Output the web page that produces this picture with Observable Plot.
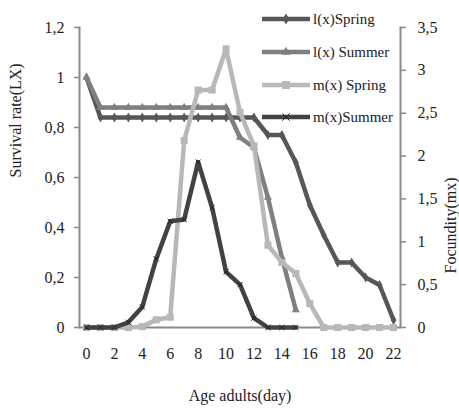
<!DOCTYPE html>
<html>
<head>
<meta charset="utf-8">
<script src="https://cdn.jsdelivr.net/npm/d3@7"></script>
<script src="https://cdn.jsdelivr.net/npm/@observablehq/plot@0.6"></script>
<style>
  html, body { margin: 0; padding: 0; background: #fff; }
  #chart { width: 459px; height: 410px; }
  #chart svg, #chart svg text { font-family: "Liberation Serif", "Times New Roman", serif !important; }
</style>
</head>
<body>
<div id="chart"></div>
<script>
// ---- data ----
const days = [0,1,2,3,4,5,6,7,8,9,10,11,12,13,14,15,16,17,18,19,20,21,22];
const xTicks = [0,2,4,6,8,10,12,14,16,18,20,22];
const leftTicks = [0,0.2,0.4,0.6,0.8,1,1.2];
const rightTicks = [0,0.5,1,1.5,2,2.5,3,3.5];
const seriesNames = ["l(x)Spring","l(x) Summer","m(x) Spring","m(x)Summer"];
const lxSpring = [1,0.84,0.84,0.84,0.84,0.84,0.84,0.84,0.84,0.84,0.84,0.84,0.84,0.77,0.77,0.66,0.49,0.37,0.26,0.26,0.20,0.17,0.03];
const lxSummer = [1,0.88,0.88,0.88,0.88,0.88,0.88,0.88,0.88,0.88,0.88,0.76,0.72,0.52,0.28,0.07];
const mxSpring = [0,0,0,0,0.01,0.09,0.12,2.18,2.77,2.77,3.25,2.51,2.12,0.96,0.76,0.63,0.28,0,0,0,0,0,0];
const mxSummer = [0,0,0,0.06,0.24,0.80,1.24,1.26,1.93,1.40,0.65,0.50,0.11,0,0,0];

// ---- styling ----
const colors = ["#575757","#7f7f7f","#b8b8b8","#424242"];
const symbols = ["diamond","triangle","square","times"];
const font = "'Liberation Serif', 'Times New Roman', serif";
const axisColor = "#8a8a8a";
const leftMax = 1.2, rightMax = 3.5;
const k = leftMax / rightMax; // map right axis onto left scale

const fmt = v => String(Math.round(v * 10) / 10).replace(".", ",");

const toRows = (arr, secondary) => arr.map((v, i) => ({day: days[i], v, y: secondary ? v * k : v}));
const data = [toRows(lxSpring,false), toRows(lxSummer,false), toRows(mxSpring,true), toRows(mxSummer,true)];

const seriesMarks = data.flatMap((rows, s) => [
  Plot.line(rows, {x: "day", y: "y", stroke: colors[s], strokeWidth: 4.5, strokeLinejoin: "round"}),
  symbols[s] === "times"
    ? Plot.dot(rows, {x: "day", y: "y", symbol: "times", r: 2.5, stroke: "#222", strokeWidth: 1})
    : Plot.dot(rows, {x: "day", y: "y", symbol: symbols[s], r: symbols[s] === "square" ? 4 : 3, fill: colors[s], stroke: "none"})
]);

const chart = Plot.plot({
  width: 459,
  height: 410,
  marginLeft: 79,
  marginRight: 59,
  marginTop: 27,
  marginBottom: 83,
  style: {fontFamily: font, fontSize: "16px", color: "#222", background: "#fff"},
  x: {domain: [-0.5, 22.5]},
  y: {domain: [0, leftMax]},
  marks: [
    Plot.ruleY([0], {stroke: axisColor, strokeWidth: 2}),
    Plot.frame({anchor: "left", stroke: axisColor, strokeWidth: 2}),
    Plot.frame({anchor: "right", stroke: axisColor, strokeWidth: 2}),
    Plot.axisX({ticks: xTicks, tickSize: 0, tickPadding: 20, label: null, fontSize: 16, tickFormat: d => String(d)}),
    Plot.axisY({ticks: leftTicks, tickSize: 5, tickPadding: 10, stroke: axisColor, strokeWidth: 1.5, label: null, fontSize: 16, tickFormat: fmt}),
    Plot.axisY({anchor: "right", ticks: rightTicks.map(v => v * k), tickSize: 5, tickPadding: 12, stroke: axisColor, strokeWidth: 1.5, label: null, fontSize: 16, tickFormat: d => fmt(d / k)}),
    ...seriesMarks,
    Plot.text(["Survival rate(LX)"], {frameAnchor: "left", dx: -64, rotate: -90, fontSize: 16, fill: "#222", letterSpacing: 1}),
    Plot.text(["Focundity(mx)"], {frameAnchor: "right", dx: 50, rotate: -90, fontSize: 16, fill: "#222", letterSpacing: 1.5}),
    Plot.text(["Age adults(day)"], {frameAnchor: "bottom", dy: 73, fontSize: 16, fill: "#222", letterSpacing: 0.5})
  ]
});

// ---- legend (top right, overlapping plot like the original) ----
const svg = d3.select(chart);
const legendY = [19, 52, 85, 117];
const lg = svg.append("g").attr("font-family", font).attr("font-size", 15).attr("text-anchor", "start");
seriesNames.forEach((name, s) => {
  const y = legendY[s];
  lg.append("line").attr("x1", 262).attr("x2", 310).attr("y1", y).attr("y2", y)
    .attr("stroke", colors[s]).attr("stroke-width", 4.5);
  const symType = {diamond: d3.symbolDiamond, triangle: d3.symbolTriangle, square: d3.symbolSquare, times: d3.symbolTimes}[symbols[s]];
  const size = symbols[s] === "square" ? 64 : 36;
  const p = lg.append("path").attr("d", d3.symbol(symType, size)()).attr("transform", `translate(286,${y})`);
  if (symbols[s] === "times") p.attr("fill", "none").attr("stroke", "#222").attr("stroke-width", 1);
  else p.attr("fill", colors[s]);
  lg.append("text").attr("x", 313).attr("y", y).attr("dy", "0.35em").attr("text-anchor", "start").attr("fill", "#222").text(name);
});

document.getElementById("chart").appendChild(chart);
</script>
</body>
</html>
